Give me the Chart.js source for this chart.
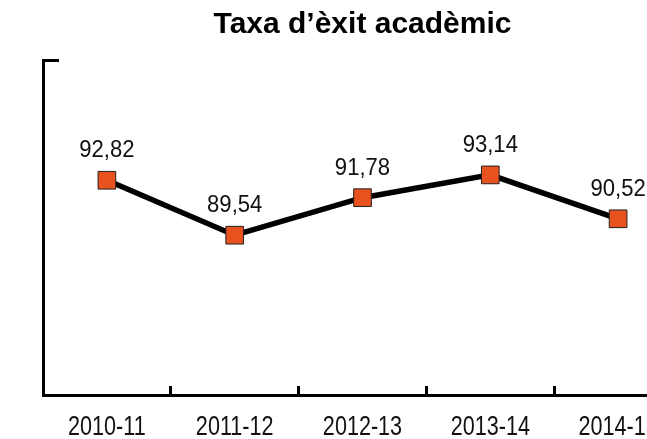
<!DOCTYPE html>
<html>
<head>
<meta charset="utf-8">
<script src="https://cdn.jsdelivr.net/npm/chart.js@4/dist/chart.umd.min.js"></script>
<style>
  html, body { margin: 0; padding: 0; background: #fff; overflow: hidden; }
  #wrap { width: 647px; height: 439px; overflow: hidden; }
</style>
</head>
<body>
<div id="wrap"><canvas id="chart" width="722" height="439"></canvas></div>
<script>
const courses = ['2010-11', '2011-12', '2012-13', '2013-14', '2014-15'];
const successRate = [92.82, 89.54, 91.78, 93.14, 90.52];
const yRange = [80, 100];

const txtFont = "'Liberation Sans', Arial, sans-serif";

// condensed-looking text: normal face squeezed horizontally
function drawNarrow(ctx, txt, x, y, size, squeeze) {
  ctx.save();
  ctx.font = size + 'px ' + txtFont;
  ctx.fillStyle = '#111';
  ctx.textAlign = 'center';
  ctx.textBaseline = 'alphabetic';
  ctx.translate(x, y);
  ctx.scale(squeeze, 1);
  ctx.fillText(txt, 0, 0);
  ctx.restore();
}

const narrowText = {
  id: 'narrowText',
  afterDatasetsDraw(chart) {
    const ctx = chart.ctx;
    // values above the squares, comma decimals
    chart.getDatasetMeta(0).data.forEach((pt, i) => {
      const txt = successRate[i].toFixed(2).replace('.', ',');
      drawNarrow(ctx, txt, pt.x, pt.y - 23, 24, 0.92);
    });
    // category labels under the axis
    const xs = chart.scales.x;
    courses.forEach((c, i) => {
      drawNarrow(ctx, c, xs.getPixelForTick(i), chart.chartArea.bottom + 40, 27, 0.8);
    });
  }
};

new Chart(document.getElementById('chart'), {
  type: 'line',
  data: {
    labels: courses,
    datasets: [{
      data: successRate,
      borderColor: '#000',
      borderWidth: 5.5,
      tension: 0,
      pointStyle: 'rect',
      pointRadius: 12.5,
      pointHoverRadius: 12.5,
      pointBackgroundColor: '#e8521e',
      pointBorderColor: '#222',
      pointBorderWidth: 1,
    }]
  },
  options: {
    responsive: false,
    animation: false,
    devicePixelRatio: 1,
    layout: { padding: { left: 43, right: 40, top: 0, bottom: 0 } },
    plugins: {
      legend: { display: false },
      tooltip: { enabled: false },
      title: {
        display: true,
        text: 'Taxa d\u2019\u00e8xit acad\u00e8mic',
        color: '#000',
        font: { family: txtFont, size: 30, weight: 'bold', lineHeight: 1.2 },
        padding: { top: 7, bottom: 17 }
      }
    },
    scales: {
      x: {
        offset: true,
        afterFit: s => { s.height = 44; },
        border: { display: true, color: '#000', width: 3 },
        grid: { offset: true, drawOnChartArea: false, color: '#000', lineWidth: 3, tickLength: -9 },
        ticks: { display: false }
      },
      y: {
        min: yRange[0],
        max: yRange[1],
        afterFit: s => { s.width = 0; },
        border: { display: true, color: '#000', width: 3 },
        grid: {
          drawOnChartArea: false,
          lineWidth: 3,
          tickLength: -16,
          color: c => (c.tick && c.tick.value === yRange[1]) ? '#000' : 'rgba(0,0,0,0)'
        },
        ticks: { display: false, stepSize: 20 }
      }
    }
  },
  plugins: [narrowText]
});
</script>
</body>
</html>
